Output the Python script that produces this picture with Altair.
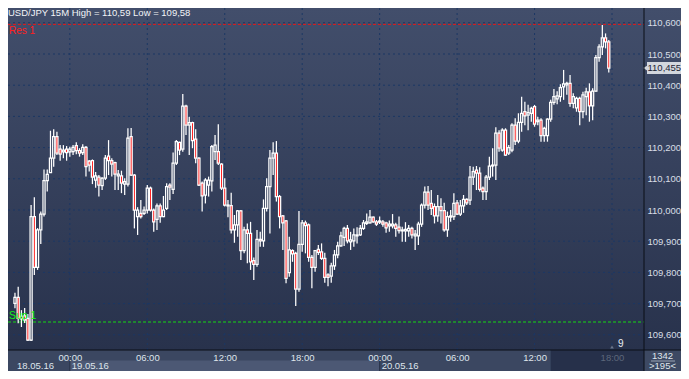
import altair as alt
import pandas as pd
import numpy as np

# ---------------- data ----------------
start_time = "2016-05-18 19:45"   # first 15-minute bar

opens = [109.701, 109.720, 109.651, 109.661, 109.653, 109.583, 109.979, 109.816, 109.936, 109.987,
         110.094, 110.120, 110.166, 110.235, 110.195, 110.186, 110.195, 110.186, 110.187, 110.206,
         110.190, 110.184, 110.201, 110.157, 110.158, 110.096, 110.105, 110.078, 110.102, 110.173,
         110.158, 110.152, 110.109, 110.109, 110.083, 110.083, 110.235, 110.112, 109.979, 109.989,
         109.989, 110.000, 110.070, 110.000, 109.970, 110.013, 109.979, 110.005, 110.080, 110.066,
         110.150, 110.217, 110.195, 110.333, 110.272, 110.280, 110.227, 110.166, 110.086, 110.048,
         110.080, 110.093, 110.187, 110.187, 110.147, 110.070, 110.013, 110.014, 109.936, 109.952,
         109.997, 109.870, 109.936, 109.925, 109.838, 109.826, 109.906, 109.901, 110.005, 110.075,
         110.166, 110.182, 110.043, 109.981, 109.965, 109.799, 109.870, 109.861, 109.746, 109.890,
         109.959, 109.952, 109.848, 109.816, 109.874, 109.866, 109.845, 109.792, 109.788, 109.821,
         109.856, 109.885, 109.912, 109.941, 109.898, 109.901, 109.917, 109.920, 109.941, 109.957,
         109.959, 109.977, 109.962, 109.961, 109.962, 109.959, 109.949, 109.949, 109.952, 109.945,
         109.933, 109.933, 109.933, 109.941, 109.917, 109.917, 109.955, 110.016, 110.057, 110.021,
         110.011, 109.981, 110.011, 109.998, 109.936, 109.977, 109.979, 110.023, 109.987, 110.013,
         110.034, 110.032, 110.105, 110.128, 110.118, 110.070, 110.059, 110.105, 110.144, 110.144,
         110.246, 110.192, 110.256, 110.182, 110.192, 110.272, 110.221, 110.281, 110.315, 110.304,
         110.310, 110.331, 110.283, 110.288, 110.238, 110.238, 110.291, 110.345, 110.356, 110.363,
         110.395, 110.401, 110.406, 110.342, 110.327, 110.358, 110.315, 110.363, 110.379, 110.334,
         110.381, 110.488, 110.523, 110.552, 110.539]
highs = [109.735, 109.754, 109.679, 109.686, 109.667, 110.016, 110.041, 109.942, 109.995, 110.130,
         110.130, 110.254, 110.259, 110.251, 110.208, 110.208, 110.205, 110.203, 110.208, 110.217,
         110.198, 110.211, 110.205, 110.160, 110.162, 110.122, 110.112, 110.105, 110.176, 110.224,
         110.166, 110.155, 110.128, 110.126, 110.102, 110.262, 110.263, 110.115, 110.009, 110.032,
         110.011, 110.080, 110.075, 110.005, 110.021, 110.021, 110.045, 110.086, 110.086, 110.184,
         110.224, 110.219, 110.372, 110.337, 110.299, 110.283, 110.259, 110.169, 110.091, 110.102,
         110.107, 110.208, 110.240, 110.275, 110.150, 110.102, 110.032, 110.055, 109.984, 110.000,
         110.000, 109.946, 109.957, 109.962, 109.848, 109.936, 109.930, 110.034, 110.102, 110.192,
         110.217, 110.221, 110.048, 109.984, 109.968, 109.914, 109.874, 109.866, 109.997, 109.968,
         109.966, 109.957, 109.856, 109.872, 109.888, 109.893, 109.863, 109.797, 109.831, 109.872,
         109.898, 109.930, 109.946, 109.952, 109.930, 109.941, 109.945, 109.952, 109.968, 109.989,
         110.000, 109.979, 109.968, 109.979, 109.968, 109.962, 109.966, 109.987, 109.959, 109.979,
         109.946, 109.961, 109.952, 109.946, 109.936, 109.962, 110.021, 110.075, 110.077, 110.064,
         110.021, 110.048, 110.038, 110.023, 109.995, 110.000, 110.054, 110.032, 110.032, 110.048,
         110.038, 110.141, 110.139, 110.141, 110.137, 110.075, 110.112, 110.171, 110.198, 110.265,
         110.256, 110.262, 110.262, 110.208, 110.278, 110.294, 110.310, 110.363, 110.347, 110.337,
         110.331, 110.337, 110.299, 110.294, 110.267, 110.294, 110.353, 110.388, 110.381, 110.403,
         110.449, 110.411, 110.433, 110.374, 110.363, 110.363, 110.379, 110.392, 110.406, 110.390,
         110.497, 110.531, 110.593, 110.566, 110.545]
lows = [109.685, 109.637, 109.625, 109.638, 109.580, 109.580, 109.792, 109.808, 109.891, 109.979,
        110.059, 110.119, 110.139, 110.176, 110.158, 110.166, 110.158, 110.171, 110.176, 110.179,
        110.171, 110.176, 110.107, 110.123, 110.083, 110.071, 110.043, 110.064, 110.096, 110.112,
        110.107, 110.064, 110.064, 110.054, 110.048, 110.075, 110.109, 109.941, 109.920, 109.973,
        109.984, 109.989, 109.995, 109.930, 109.936, 109.959, 109.977, 110.000, 110.032, 110.051,
        110.144, 110.176, 110.187, 110.240, 110.176, 110.198, 110.150, 110.077, 109.995, 110.021,
        110.043, 110.059, 110.160, 110.144, 110.064, 110.011, 109.977, 109.925, 109.895, 109.914,
        109.840, 109.861, 109.829, 109.808, 109.776, 109.818, 109.882, 109.882, 109.995, 109.925,
        110.112, 110.027, 109.941, 109.872, 109.765, 109.786, 109.834, 109.692, 109.738, 109.866,
        109.861, 109.834, 109.749, 109.802, 109.856, 109.840, 109.767, 109.756, 109.767, 109.808,
        109.845, 109.882, 109.885, 109.893, 109.872, 109.882, 109.893, 109.917, 109.936, 109.952,
        109.957, 109.959, 109.949, 109.955, 109.946, 109.927, 109.930, 109.941, 109.914, 109.925,
        109.898, 109.898, 109.914, 109.909, 109.872, 109.888, 109.946, 110.005, 110.000, 109.984,
        109.957, 109.962, 109.957, 109.930, 109.914, 109.962, 109.968, 109.984, 109.981, 109.991,
        110.016, 110.016, 110.080, 110.064, 110.059, 110.032, 110.032, 110.096, 110.107, 110.096,
        110.187, 110.187, 110.173, 110.176, 110.185, 110.208, 110.214, 110.251, 110.272, 110.256,
        110.283, 110.267, 110.272, 110.219, 110.219, 110.219, 110.283, 110.337, 110.339, 110.347,
        110.353, 110.369, 110.331, 110.326, 110.315, 110.272, 110.294, 110.304, 110.283, 110.288,
        110.379, 110.475, 110.497, 110.518, 110.441]
closes = [109.720, 109.653, 109.660, 109.647, 109.583, 109.979, 109.816, 109.936, 109.987, 110.094,
          110.114, 110.166, 110.235, 110.182, 110.179, 110.192, 110.184, 110.195, 110.201, 110.190,
          110.182, 110.201, 110.139, 110.144, 110.105, 110.109, 110.080, 110.102, 110.166, 110.158,
          110.147, 110.115, 110.115, 110.086, 110.091, 110.230, 110.112, 110.000, 110.000, 109.979,
          110.000, 110.070, 110.000, 109.962, 110.013, 109.979, 110.000, 110.075, 110.073, 110.150,
          110.219, 110.192, 110.333, 110.272, 110.280, 110.222, 110.166, 110.080, 110.045, 110.096,
          110.096, 110.203, 110.208, 110.150, 110.070, 110.016, 110.016, 109.936, 109.952, 109.997,
          109.870, 109.936, 109.925, 109.834, 109.826, 109.906, 109.901, 110.005, 110.075, 110.166,
          110.182, 110.043, 109.979, 109.959, 109.781, 109.872, 109.859, 109.746, 109.890, 109.959,
          109.950, 109.848, 109.816, 109.870, 109.864, 109.845, 109.784, 109.784, 109.821, 109.856,
          109.885, 109.917, 109.941, 109.901, 109.904, 109.920, 109.920, 109.941, 109.959, 109.962,
          109.977, 109.962, 109.955, 109.965, 109.955, 109.943, 109.955, 109.955, 109.941, 109.934,
          109.936, 109.938, 109.941, 109.920, 109.923, 109.955, 110.016, 110.057, 110.016, 110.005,
          109.981, 110.011, 109.998, 109.936, 109.979, 109.981, 110.021, 109.987, 110.013, 110.034,
          110.023, 110.105, 110.123, 110.118, 110.066, 110.059, 110.105, 110.141, 110.141, 110.246,
          110.198, 110.256, 110.176, 110.200, 110.272, 110.221, 110.281, 110.310, 110.302, 110.312,
          110.326, 110.275, 110.288, 110.238, 110.262, 110.291, 110.345, 110.363, 110.366, 110.392,
          110.404, 110.406, 110.342, 110.363, 110.358, 110.315, 110.369, 110.379, 110.334, 110.381,
          110.488, 110.523, 110.552, 110.539, 110.455]

res_level = 110.595
sup_level = 109.641
last_price = 110.455
last_label = "110,455"
price_ticks = [109.6, 109.7, 109.8, 109.9, 110.0, 110.1, 110.2, 110.3, 110.4, 110.5, 110.6]
time_ticks = ["2016-05-19T00:00:00", "2016-05-19T06:00:00", "2016-05-19T12:00:00",
              "2016-05-19T18:00:00", "2016-05-20T00:00:00", "2016-05-20T06:00:00",
              "2016-05-20T12:00:00", "2016-05-20T18:00:00"]
date_starts = ["2016-05-18T19:45:00", "2016-05-19T00:00:00", "2016-05-20T00:00:00"]
date_labels = ["18.05.16", "19.05.16", "20.05.16"]
shade_start = "2016-05-20T13:15:00"
title_text = "USD/JPY 15M High = 110,59 Low = 109,58"
corner_top = "1342"
corner_bottom = ">195<"
bar_counter = "9"

# ---------------- layout ----------------
W, H = 636, 342          # plot area
RP, BP = 37, 21          # right price panel, bottom time panel
FONT = "Liberation Sans"
FS = 9.5
LW = 1.25                # candle line width

times = pd.date_range(start_time, periods=len(closes), freq="15min")
df = pd.DataFrame({"t": times.strftime("%Y-%m-%dT%H:%M:%S"),
                   "o": opens, "h": highs, "l": lows, "c": closes})
df["top"] = np.maximum(df["o"], df["c"])
df["bot"] = np.minimum(df["o"], df["c"])
df["dir"] = np.where(df["c"] >= df["o"], "up", "down")

first_x, last_x = 2.0, 605.3
min_per_px = 15.0 / ((last_x - first_x) / (len(closes) - 1))
xs = times[0] - pd.Timedelta(minutes=first_x * min_per_px)
xe = xs + pd.Timedelta(minutes=W * min_per_px)


def dt(ts):
    ts = pd.Timestamp(ts)
    return alt.DateTime(year=int(ts.year), month=int(ts.month), date=int(ts.day),
                        hours=int(ts.hour), minutes=int(ts.minute), seconds=int(ts.second),
                        milliseconds=int(ts.microsecond // 1000))


x_scale = alt.Scale(domain=[dt(xs), dt(xe)], nice=False)
y_scale = alt.Scale(domain=[109.6 - (H - 326.8) / 312.0, 110.6 + 14.8 / 312.0], nice=False, zero=False)

x_axis = alt.Axis(values=[dt(s) for s in time_ticks], format="%H:%M", title=None, grid=False,
                  ticks=False, domain=False, labelFont=FONT, labelFontSize=FS, labelPadding=2,
                  labelOverlap=False, labelFlush=False, labelBound=False, zindex=1,
                  labelColor={"condition": {"test": "datum.value >= time(datetime(2016, 4, 20, 14, 0))",
                                            "value": "#5d677b"},
                              "value": "#dfe5ec"})
y_axis = alt.Axis(orient="right", values=price_ticks, title=None, grid=False, ticks=False,
                  domain=False, labelFont=FONT, labelFontSize=FS, labelPadding=3,
                  labelColor="#d8dee6", zindex=1,
                  labelExpr="replace(format(datum.value, '.3f'), '.', ',')")


def Xf(field):
    return alt.X(f"{field}:T", scale=x_scale, axis=x_axis)


def Yf(field):
    return alt.Y(f"{field}:Q", scale=y_scale, axis=y_axis)


one = pd.DataFrame({"k": [0]})
grad = {"gradient": "linear", "x1": 0, "y1": 0, "x2": 0, "y2": 1,
        "stops": [{"offset": 0, "color": "#424e6b"}, {"offset": 1, "color": "#28324c"}]}

layers = []
# backgrounds
layers.append(alt.Chart(one).mark_rect(fill=grad).encode(
    x=alt.value(0), x2=alt.value(W + RP), y=alt.value(0), y2=alt.value(H)))
layers.append(alt.Chart(one).mark_rect(fill="#3b4761").encode(
    x=alt.value(0), x2=alt.value(W + RP), y=alt.value(H), y2=alt.value(H + BP)))
day_cell = pd.DataFrame({"t": [date_starts[1]], "t2": [date_starts[2]]})
layers.append(alt.Chart(day_cell).mark_rect(fill="#4c5874").encode(
    x=Xf("t"), x2=alt.X2("t2"), y=alt.value(H + 10.5), y2=alt.value(H + BP)))
layers.append(alt.Chart(pd.DataFrame({"t": [shade_start]})).mark_rect(fill="#26304a").encode(
    x=Xf("t"), x2=alt.value(W), y=alt.value(H), y2=alt.value(H + BP)))
layers.append(alt.Chart(pd.DataFrame({"t": date_starts[1:]})).mark_rule(color="#283247").encode(
    x=Xf("t"), y=alt.value(H + 10.5), y2=alt.value(H + BP)))
layers.append(alt.Chart(one).mark_rect(fill="#3d4963").encode(
    x=alt.value(W), x2=alt.value(W + RP), y=alt.value(H), y2=alt.value(H + BP)))

# grid
layers.append(alt.Chart(pd.DataFrame({"p": price_ticks})).mark_rule(
    color="#1b3764", strokeDash=[2, 3], strokeWidth=1).encode(
    y=Yf("p"), x=alt.value(0), x2=alt.value(W)))
layers.append(alt.Chart(pd.DataFrame({"t": time_ticks})).mark_rule(
    color="#1b3764", strokeDash=[2, 3], strokeWidth=1).encode(
    x=Xf("t"), y=alt.value(0), y2=alt.value(H)))

# support / resistance lines
layers.append(alt.Chart(pd.DataFrame({"p": [res_level]})).mark_rule(
    color="#e81818", strokeDash=[3, 2], strokeWidth=1).encode(
    y=Yf("p"), x=alt.value(0), x2=alt.value(W)))
layers.append(alt.Chart(pd.DataFrame({"p": [sup_level]})).mark_rule(
    color="#14d814", strokeDash=[3, 2], strokeWidth=1).encode(
    y=Yf("p"), x=alt.value(0), x2=alt.value(W)))

# candles
base = alt.Chart(df)
layers.append(base.mark_rule(color="white", strokeWidth=LW).encode(
    x=Xf("t"), y=Yf("h"), y2=alt.Y2("top")))
layers.append(base.mark_rule(color="white", strokeWidth=LW).encode(
    x=Xf("t"), y=Yf("bot"), y2=alt.Y2("l")))
layers.append(base.mark_bar(size=2.1, stroke="white", strokeWidth=LW).encode(
    x=Xf("t"), y=Yf("top"), y2=alt.Y2("bot"),
    fill=alt.Fill("dir:N", scale=alt.Scale(domain=["up", "down"],
                                           range=["rgba(0,0,0,0)", "#ff0000"]), legend=None)))

# level labels and title
layers.append(alt.Chart(pd.DataFrame({"p": [res_level], "txt": ["Res 1"]})).mark_text(
    align="left", baseline="top", dy=2, color="#ff2020", font=FONT, fontSize=10).encode(
    x=alt.value(1), y=Yf("p"), text="txt:N"))
layers.append(alt.Chart(pd.DataFrame({"p": [sup_level], "txt": ["Sup 1"]})).mark_text(
    align="left", baseline="alphabetic", dy=-3, color="#18f018", font=FONT, fontSize=10.5).encode(
    x=alt.value(1), y=Yf("p"), text="txt:N"))
layers.append(alt.Chart(pd.DataFrame({"txt": [title_text]})).mark_text(
    align="left", baseline="alphabetic", color="#f2f4f7", font=FONT, fontSize=FS).encode(
    x=alt.value(0), y=alt.value(7.5), text="txt:N"))

# last price tag
tag = pd.DataFrame({"p": [last_price], "txt": [last_label]})
layers.append(alt.Chart(tag).mark_rect(fill="#d3d7de", yOffset=-6, y2Offset=6).encode(
    x=alt.value(W + 3), x2=alt.value(W + RP), y=Yf("p"), y2=alt.Y2("p")))
layers.append(alt.Chart(tag).mark_point(shape="triangle-left", filled=True, size=45,
                                        color="#d3d7de", opacity=1).encode(
    x=alt.value(W + 2), y=Yf("p")))
layers.append(alt.Chart(tag).mark_text(align="left", baseline="middle", color="#1c2435",
                                       font=FONT, fontSize=FS).encode(
    x=alt.value(W + 3.5), y=Yf("p"), text="txt:N"))

# frame lines
layers.append(alt.Chart(one).mark_rule(color="#0a0e16", strokeWidth=1).encode(
    x=alt.value(W), y=alt.value(0), y2=alt.value(H + BP)))
layers.append(alt.Chart(one).mark_rule(color="#0a0e16", strokeWidth=1).encode(
    y=alt.value(H), x=alt.value(0), x2=alt.value(W + RP)))

# corner info
layers.append(alt.Chart(pd.DataFrame({"txt": [corner_top]})).mark_text(
    align="center", baseline="middle", color="#dfe5ec", font=FONT, fontSize=FS).encode(
    x=alt.value(W + RP / 2), y=alt.value(H + 5.5), text="txt:N"))
layers.append(alt.Chart(one).mark_rule(color="#9aa4b4", strokeWidth=1).encode(
    y=alt.value(H + 11), x=alt.value(W + 7), x2=alt.value(W + RP - 6)))
layers.append(alt.Chart(pd.DataFrame({"txt": [corner_bottom]})).mark_text(
    align="center", baseline="middle", color="#dfe5ec", font=FONT, fontSize=FS).encode(
    x=alt.value(W + RP / 2), y=alt.value(H + 16), text="txt:N"))

# bar counter
layers.append(alt.Chart(pd.DataFrame({"txt": [bar_counter]})).mark_text(
    align="left", baseline="middle", color="#e8ecf2", font=FONT, fontSize=10).encode(
    x=alt.value(610), y=alt.value(H - 6), text="txt:N"))
layers.append(alt.Chart(one).mark_point(shape="triangle-up", filled=True, size=14,
                                        color="#6a7488", opacity=1).encode(
    x=alt.value(604), y=alt.value(H - 3)))

# date labels
layers.append(alt.Chart(pd.DataFrame({"t": date_starts, "txt": date_labels})).mark_text(
    align="left", baseline="middle", dx=2, color="#dfe5ec", font=FONT, fontSize=FS).encode(
    x=Xf("t"), y=alt.value(H + 16), text="txt:N"))

chart = alt.layer(*layers).properties(
    width=W, height=H,
    autosize=alt.AutoSizeParams(type="none"),
    padding={"left": 0, "top": 0, "right": RP, "bottom": BP},
    background="#3b4761",
).configure_view(stroke=None)

chart.save("out.html", embed_options={"renderer": "svg", "actions": False})
